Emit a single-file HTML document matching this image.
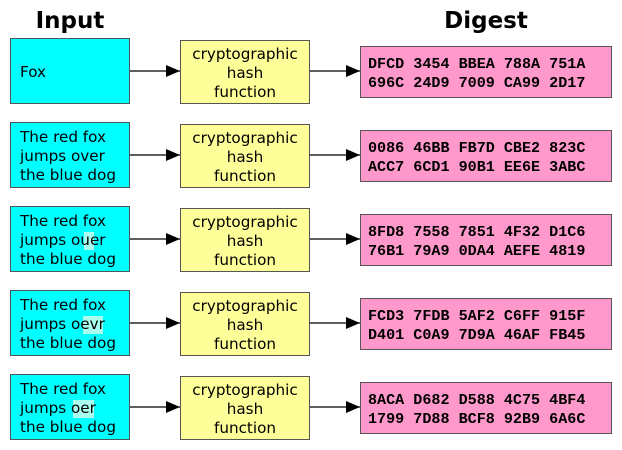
<!DOCTYPE html>
<html><head><meta charset="utf-8"><style>
html,body{margin:0;padding:0;background:#fff}
svg{display:block}
.t{font-family:"DejaVu Sans","Liberation Sans",sans-serif;font-size:15.2px;fill:#000}
.h{font-family:"Liberation Mono",monospace;font-weight:bold;font-size:15.1px;fill:#000}
.hd{font-family:"DejaVu Sans","Liberation Sans",sans-serif;font-weight:bold;font-size:23px;fill:#000}
</style></head><body>
<svg width="622" height="450" viewBox="0 0 622 450" xmlns="http://www.w3.org/2000/svg">
<defs><marker id="a" markerWidth="14" markerHeight="12" refX="14" refY="6" orient="auto" markerUnits="userSpaceOnUse"><path d="M0,0 L14,6 L0,12 z" fill="#000"/></marker></defs>
<text class="hd" x="70" y="28" text-anchor="middle">Input</text>
<text class="hd" x="486" y="28" text-anchor="middle">Digest</text>
<g transform="translate(0,0)">
<rect x="10.5" y="38.5" width="119" height="65" fill="#00ffff" stroke="#555"/>
<text class="t" x="20" y="77">Fox</text>
<rect x="180.5" y="40.5" width="129" height="63" fill="#ffff99" stroke="#555"/>
<text class="t" text-anchor="middle" x="245"><tspan x="245" y="59">cryptographic</tspan><tspan x="245" y="78">hash</tspan><tspan x="245" y="97">function</tspan></text>
<rect x="360.5" y="46.5" width="251" height="51" fill="#ff99cc" stroke="#555"/>
<text class="h" x="368" y="68">DFCD 3454 BBEA 788A 751A</text>
<text class="h" x="368" y="87">696C 24D9 7009 CA99 2D17</text>
<line x1="130" y1="71" x2="180" y2="71" stroke="#000" stroke-width="1.3" marker-end="url(#a)"/>
<line x1="310" y1="71" x2="360" y2="71" stroke="#000" stroke-width="1.3" marker-end="url(#a)"/>
</g>
<g transform="translate(0,84)">
<rect x="10.5" y="38.5" width="119" height="65" fill="#00ffff" stroke="#555"/>
<text class="t" x="20"><tspan x="20" y="58">The red fox</tspan><tspan x="20" y="77">jumps over</tspan><tspan x="20" y="96">the blue dog</tspan></text>
<rect x="180.5" y="40.5" width="129" height="63" fill="#ffff99" stroke="#555"/>
<text class="t" text-anchor="middle" x="245"><tspan x="245" y="59">cryptographic</tspan><tspan x="245" y="78">hash</tspan><tspan x="245" y="97">function</tspan></text>
<rect x="360.5" y="46.5" width="251" height="51" fill="#ff99cc" stroke="#555"/>
<text class="h" x="368" y="68">0086 46BB FB7D CBE2 823C</text>
<text class="h" x="368" y="87">ACC7 6CD1 90B1 EE6E 3ABC</text>
<line x1="130" y1="71" x2="180" y2="71" stroke="#000" stroke-width="1.3" marker-end="url(#a)"/>
<line x1="310" y1="71" x2="360" y2="71" stroke="#000" stroke-width="1.3" marker-end="url(#a)"/>
</g>
<g transform="translate(0,168)">
<rect x="10.5" y="38.5" width="119" height="65" fill="#00ffff" stroke="#555"/>
<rect x="84" y="64" width="10" height="18" fill="#aaffee"/>
<text class="t" x="20"><tspan x="20" y="58">The red fox</tspan><tspan x="20" y="77">jumps ouer</tspan><tspan x="20" y="96">the blue dog</tspan></text>
<rect x="180.5" y="40.5" width="129" height="63" fill="#ffff99" stroke="#555"/>
<text class="t" text-anchor="middle" x="245"><tspan x="245" y="59">cryptographic</tspan><tspan x="245" y="78">hash</tspan><tspan x="245" y="97">function</tspan></text>
<rect x="360.5" y="46.5" width="251" height="51" fill="#ff99cc" stroke="#555"/>
<text class="h" x="368" y="68">8FD8 7558 7851 4F32 D1C6</text>
<text class="h" x="368" y="87">76B1 79A9 0DA4 AEFE 4819</text>
<line x1="130" y1="71" x2="180" y2="71" stroke="#000" stroke-width="1.3" marker-end="url(#a)"/>
<line x1="310" y1="71" x2="360" y2="71" stroke="#000" stroke-width="1.3" marker-end="url(#a)"/>
</g>
<g transform="translate(0,252)">
<rect x="10.5" y="38.5" width="119" height="65" fill="#00ffff" stroke="#555"/>
<rect x="83" y="64" width="20" height="18" fill="#aaffee"/>
<text class="t" x="20"><tspan x="20" y="58">The red fox</tspan><tspan x="20" y="77">jumps oevr</tspan><tspan x="20" y="96">the blue dog</tspan></text>
<rect x="180.5" y="40.5" width="129" height="63" fill="#ffff99" stroke="#555"/>
<text class="t" text-anchor="middle" x="245"><tspan x="245" y="59">cryptographic</tspan><tspan x="245" y="78">hash</tspan><tspan x="245" y="97">function</tspan></text>
<rect x="360.5" y="46.5" width="251" height="51" fill="#ff99cc" stroke="#555"/>
<text class="h" x="368" y="68">FCD3 7FDB 5AF2 C6FF 915F</text>
<text class="h" x="368" y="87">D401 C0A9 7D9A 46AF FB45</text>
<line x1="130" y1="71" x2="180" y2="71" stroke="#000" stroke-width="1.3" marker-end="url(#a)"/>
<line x1="310" y1="71" x2="360" y2="71" stroke="#000" stroke-width="1.3" marker-end="url(#a)"/>
</g>
<g transform="translate(0,336)">
<rect x="10.5" y="38.5" width="119" height="65" fill="#00ffff" stroke="#555"/>
<rect x="73" y="64" width="21" height="18" fill="#aaffee"/>
<text class="t" x="20"><tspan x="20" y="58">The red fox</tspan><tspan x="20" y="77">jumps oer</tspan><tspan x="20" y="96">the blue dog</tspan></text>
<rect x="180.5" y="40.5" width="129" height="63" fill="#ffff99" stroke="#555"/>
<text class="t" text-anchor="middle" x="245"><tspan x="245" y="59">cryptographic</tspan><tspan x="245" y="78">hash</tspan><tspan x="245" y="97">function</tspan></text>
<rect x="360.5" y="46.5" width="251" height="51" fill="#ff99cc" stroke="#555"/>
<text class="h" x="368" y="68">8ACA D682 D588 4C75 4BF4</text>
<text class="h" x="368" y="87">1799 7D88 BCF8 92B9 6A6C</text>
<line x1="130" y1="71" x2="180" y2="71" stroke="#000" stroke-width="1.3" marker-end="url(#a)"/>
<line x1="310" y1="71" x2="360" y2="71" stroke="#000" stroke-width="1.3" marker-end="url(#a)"/>
</g>
</svg>
</body></html>
